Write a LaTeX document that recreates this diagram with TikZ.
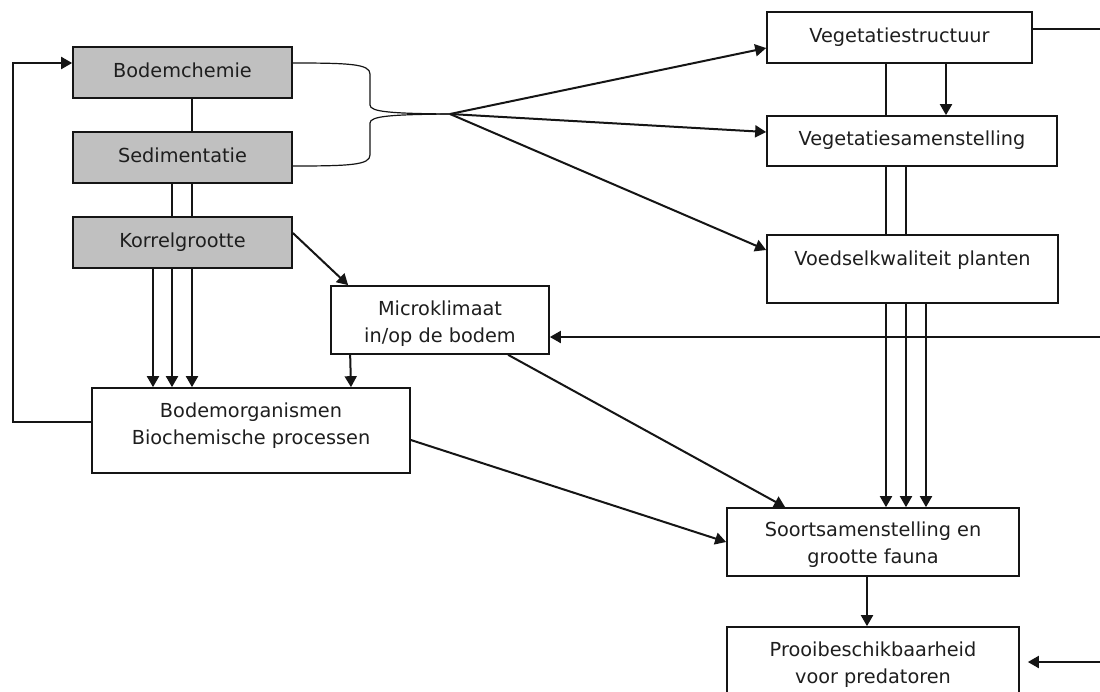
\documentclass[tikz,border=0pt]{standalone}
\usepackage{fontspec}
\setmainfont{DejaVu Sans}
\usetikzlibrary{arrows.meta,calc}
\definecolor{linecol}{HTML}{151515}
\definecolor{txtcol}{HTML}{1E1E1E}
\definecolor{boxgray}{HTML}{C0C0C0}
\tikzset{
  txt/.style={font=\fontsize{19.3}{27}\selectfont, text=txtcol, align=center, inner sep=0pt},
  box/.style={draw=linecol, line width=1.7pt, fill=white, inner sep=0pt, txt},
  onebox/.style={box, text height=14.4pt, text depth=4.5pt},
  graybox/.style={onebox, fill=boxgray},
  conn/.style={draw=linecol, line width=2pt},
  arr/.style={conn, -{Triangle[length=11pt,width=12pt]}},
  brace/.style={draw=linecol, line width=1.2pt},
}
\begin{document}
\begin{tikzpicture}[x=1pt,y=-1pt]
\clip (0,0) rectangle (1100,691);
\fill[white] (0,0) rectangle (1100,691);

% left column
\node[graybox, minimum width=219pt, minimum height=51pt] (chem) at (182.5,72.5) {Bodemchemie};
\node[graybox, minimum width=219pt, minimum height=51pt] (sed) at (182.5,157.5) {Sedimentatie};
\node[graybox, minimum width=219pt, minimum height=51pt] (kor) at (182.5,242.5) {Korrelgrootte};
\node[box, minimum width=218pt, minimum height=68pt] (mic) at (440,320) {};
\node[txt] (micl) at (440,323.5) {Microklimaat\\in/op de bodem};
\node[box, minimum width=318pt, minimum height=85pt] (org) at (251,430.5) {};
\node[txt] (orgl) at (251,425.5) {Bodemorganismen\\Biochemische processen};

% right column
\node[onebox, minimum width=265pt, minimum height=51pt] (vstr) at (899.5,37.5) {Vegetatiestructuur};
\node[onebox, minimum width=290pt, minimum height=50pt] (vsam) at (912,141) {Vegetatiesamenstelling};
\node[box, minimum width=291pt, minimum height=68pt] (voed) at (912.5,269) {};
\node[txt, anchor=base] (voedl) at (912.5,265) {Voedselkwaliteit planten};
\node[box, minimum width=292pt, minimum height=68pt] (soort) at (873,542) {};
\node[txt] (soortl) at (873,545) {Soortsamenstelling en\\grootte fauna};
\node[box, minimum width=292pt, minimum height=73pt] (prooi) at (873,663.5) {};
\node[txt] (prooil) at (873,665) {Prooibeschikbaarheid\\voor predatoren};

% helper coordinates
\coordinate (fan) at (450,114);
\coordinate (fbk) at (13,422);
\coordinate (rt1) at (1102,29);
\coordinate (rt2) at (1102,337);
\coordinate (rt3) at (1102,662);

% left column links
\draw[conn] ($(chem.south)+(9.5,0)$) -- ($(sed.north)+(9.5,0)$);
\draw[conn] ($(sed.south)+(-10.5,0)$) -- ($(kor.north)+(-10.5,0)$);
\draw[conn] ($(sed.south)+(9.5,0)$) -- ($(kor.north)+(9.5,0)$);
\draw[arr] ($(kor.south)+(-29.5,0)$) -- ($(org.north)+(-98,0)$);
\draw[arr] ($(kor.south)+(-10.5,0)$) -- ($(org.north)+(-79,0)$);
\draw[arr] ($(kor.south)+(9.5,0)$) -- ($(org.north)+(-59,0)$);
\draw[arr] ($(kor.east)+(0,-9.5)$) -- ($(mic.north west)+(18,0)$);
\draw[arr] ($(mic.south west)+(20,0)$) -- ($(org.north)+(100,0)$);
\draw[arr] ($(org.west)+(0,-8.5)$) -- (fbk) |- ($(chem.west)+(0,-9.5)$);

% brace join
\draw[brace] ($(chem.east)+(0,-9.5)$) .. controls (350,63) and (370,64) .. (370,74)
  -- (370,105) .. controls (370,112) and (392,113.5) .. (fan);
\draw[brace] ($(sed.east)+(0,8.5)$) .. controls (350,166) and (370,165) .. (370,155)
  -- (370,123) .. controls (370,116) and (392,114.5) .. (fan);

% fan arrows
\draw[arr] (fan) -- ($(vstr.west)+(0,10.5)$);
\draw[arr] (fan) -- ($(vsam.west)+(0,-9)$);
\draw[arr] (fan) -- ($(voed.west)+(0,-19)$);

% right column links
\draw[conn] ($(vstr.south)+(-13.5,0)$) -- ($(vsam.north)+(-26,0)$);
\draw[arr] ($(vstr.south)+(46.5,0)$) -- ($(vsam.north)+(34,0)$);
\draw[conn] ($(vsam.south)+(-26,0)$) -- ($(voed.north)+(-26.5,0)$);
\draw[conn] ($(vsam.south)+(-6,0)$) -- ($(voed.north)+(-6.5,0)$);
\draw[arr] ($(voed.south)+(-26.5,0)$) -- ($(soort.north)+(13,0)$);
\draw[arr] ($(voed.south)+(-6.5,0)$) -- ($(soort.north)+(33,0)$);
\draw[arr] ($(voed.south)+(13.5,0)$) -- ($(soort.north)+(53,0)$);
\draw[conn] ($(vstr.east)+(0,-8.5)$) -- (rt1);
\draw[arr] (rt2) -- ($(mic.east)+(0,17)$);
\draw[arr] ($(mic.south west)+(178,0)$) -- ($(soort.north west)+(59,0)$);
\draw[arr] ($(org.east)+(0,9.5)$) -- (soort.west);
\draw[arr] ($(soort.south)+(-6,0)$) -- ($(prooi.north)+(-6,0)$);
\draw[arr] (rt3) -- ($(prooi.east)+(8,-1.5)$);
\end{tikzpicture}
\end{document}
